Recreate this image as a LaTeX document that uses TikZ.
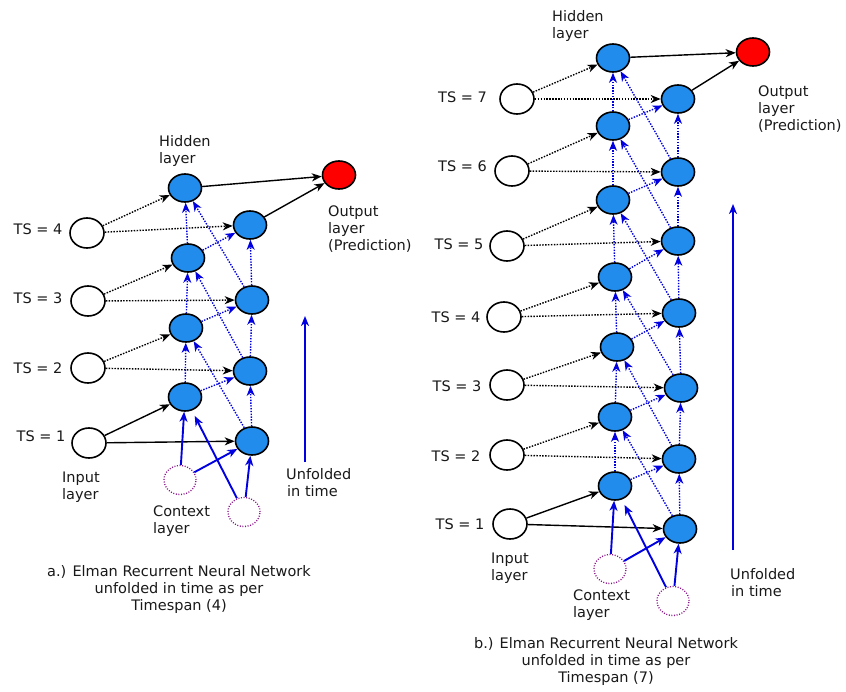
\documentclass[tikz,border=0pt]{standalone}
\usepackage{fontspec}
\setmainfont{DejaVu Sans}
\usetikzlibrary{arrows.meta,shapes.geometric}
\definecolor{hidfill}{RGB}{33,140,235}
\definecolor{ctxc}{RGB}{140,20,140}
\definecolor{arrblue}{RGB}{0,0,225}
\definecolor{txt}{RGB}{25,25,25}
\tikzset{
  hid/.style={ellipse, draw=black, line width=1.6pt, fill=hidfill, minimum width=33pt, minimum height=28pt, inner sep=0pt},
  outn/.style={hid, fill=red},
  inp/.style={ellipse, draw=black, line width=1.6pt, fill=white, minimum width=34pt, minimum height=30pt, inner sep=0pt},
  ctx/.style={ellipse, draw=ctxc, line width=1.3pt, dash pattern=on 1pt off 1.6pt, minimum width=32pt, minimum height=29pt, inner sep=0pt},
  lbl/.style={font=\fontsize{14.5}{17}\selectfont, text=txt, inner sep=0pt, align=left, anchor=north west},
  captxt/.style={font=\fontsize{14.5}{17}\selectfont, text=txt, inner sep=0pt, align=center, anchor=north},
  tslbl/.style={font=\fontsize{14.5}{17}\selectfont, text=txt, inner sep=0pt},
  blk/.style={-{Stealth[length=10pt,width=8pt,inset=3pt]}, draw=black, line width=1.4pt},
  blkdot/.style={blk, dash pattern=on 1.5pt off 1.4pt},
  bldot/.style={-{Stealth[length=10pt,width=8pt,inset=3pt]}, color=arrblue, line width=1.4pt, dash pattern=on 1.4pt off 1.4pt},
  blsol/.style={-{Stealth[length=10pt,width=8pt,inset=3pt]}, color=arrblue, line width=1.9pt},
}
\begin{document}
\begin{tikzpicture}[x=1pt,y=-1pt]
\useasboundingbox (0,0) rectangle (846,691);
\fill[white] (0,0) rectangle (846,691);

% ================= Left diagram (a) =================
\foreach \n/\x/\y in {1/185/397, 2/186/328, 3/188/258, 4/185/188}
  \node[hid] (la\n) at (\x,\y) {};
\foreach \n/\x/\y in {1/252/441, 2/250/371, 3/252/300, 4/250/225}
  \node[hid] (lb\n) at (\x,\y) {};
\foreach \n/\x/\y in {1/89/443, 2/88/368, 3/88/301, 4/87/233}
  \node[inp] (li\n) at (\x,\y) {};
\node[outn] (lout) at (339,175) {};
\node[ctx] (lc1) at (180,480) {};
\node[ctx] (lc2) at (244,512) {};

\foreach \n/\x/\y in {1/41/436, 2/38/368, 3/38/298, 4/38/229.5}
  \node[tslbl] (lts\n) at (\x,\y) {TS = \n};

\node[lbl] (lhid) at (159,135) {Hidden\\layer};
\node[lbl] (lolbl) at (328,206) {Output\\layer\\(Prediction)};
\node[lbl] (lilbl) at (62,472) {Input\\layer};
\node[lbl] (lclbl) at (153,506) {Context\\layer};
\node[lbl] (lulbl) at (286,468) {Unfolded\\\hspace*{1pt}in time};
\node[captxt] (lcap) at (179,565.5) {a.) Elman Recurrent Neural Network\\unfolded in time as per\\Timespan (4)};

\draw[blk] (li1) -- (la1);
\draw[blk] (li1) -- (lb1);
\foreach \i in {2,3,4} {
  \draw[blkdot] (li\i) -- (la\i);
  \draw[blkdot] (li\i) -- (lb\i);
}
\foreach \i/\j in {1/2,2/3,3/4} {
  \draw[bldot] (la\i) -- (la\j);
  \draw[bldot] (lb\i) -- (lb\j);
  \draw[bldot] (la\i) -- (lb\j);
  \draw[bldot] (lb\i) -- (la\j);
}
\draw[blk] (la4) -- (lout);
\draw[blk] (lb4) -- (lout);
\draw[blsol] (lc1) -- (la1);
\draw[blsol] (lc1) -- (lb1);
\draw[blsol, shorten >=6pt] (lc2) -- (la1);
\draw[blsol] (lc2) -- (lb1);
\coordinate (lu0) at (305,462);
\coordinate (lu1) at (305,316);
\draw[blsol] (lu0) -- (lu1);

% ================= Right diagram (b) =================
\foreach \n/\x/\y in {1/615/486, 2/615/417, 3/617/347, 4/615/277, 5/613/200, 6/613/126, 7/613/58}
  \node[hid] (ra\n) at (\x,\y) {};
\foreach \n/\x/\y in {1/680/529, 2/679/459, 3/681/388, 4/679/313, 5/678/241, 6/678/172, 7/678/99}
  \node[hid] (rb\n) at (\x,\y) {};
\foreach \n/\x/\y in {1/510/524, 2/507/455, 3/507/385, 4/504/317, 5/507/246, 6/512/171, 7/517/99}
  \node[inp] (ri\n) at (\x,\y) {};
\node[outn] (rout) at (753,52) {};
\node[ctx] (rc1) at (610,569) {};
\node[ctx] (rc2) at (673,601) {};

\foreach \n/\x/\y in {1/460/524, 2/456/456, 3/457/386, 4/456/317, 5/459/244.5, 6/462.5/166, 7/462.5/97}
  \node[tslbl] (rts\n) at (\x,\y) {TS = \n};

\node[lbl] (rhid) at (552,10) {Hidden\\layer};
\node[lbl] (rolbl) at (758,85.5) {Output\\layer\\(Prediction)};
\node[lbl] (rilbl) at (491,552.5) {Input\\layer};
\node[lbl] (rclbl) at (573,589.5) {Context\\layer};
\node[lbl] (rulbl) at (730,568.5) {Unfolded\\\hspace*{1pt}in time};
\node[captxt] (rcap) at (606,637.5) {b.) Elman Recurrent Neural Network\\unfolded in time as per\\Timespan (7)};

\draw[blk] (ri1) -- (ra1);
\draw[blk] (ri1) -- (rb1);
\foreach \i in {2,...,7} {
  \draw[blkdot] (ri\i) -- (ra\i);
  \draw[blkdot] (ri\i) -- (rb\i);
}
\foreach \i/\j in {1/2,2/3,3/4,4/5,5/6,6/7} {
  \draw[bldot] (ra\i) -- (ra\j);
  \draw[bldot] (rb\i) -- (rb\j);
  \draw[bldot] (ra\i) -- (rb\j);
  \draw[bldot] (rb\i) -- (ra\j);
}
\draw[blk] (ra7) -- (rout);
\draw[blk] (rb7) -- (rout);
\draw[blsol] (rc1) -- (ra1);
\draw[blsol] (rc1) -- (rb1);
\draw[blsol, shorten >=6pt] (rc2) -- (ra1);
\draw[blsol] (rc2) -- (rb1);
\coordinate (ru0) at (733,550);
\coordinate (ru1) at (733,204);
\draw[blsol] (ru0) -- (ru1);
\end{tikzpicture}
\end{document}
